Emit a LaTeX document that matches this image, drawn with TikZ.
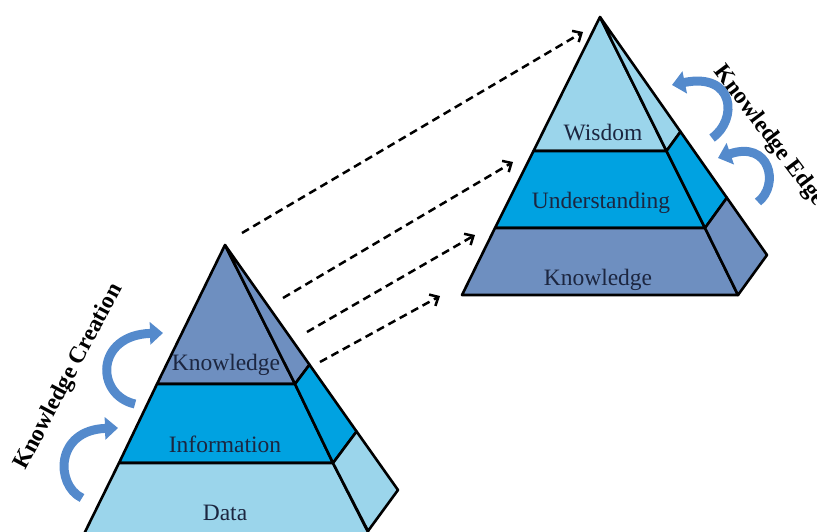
\documentclass[tikz,border=0pt]{standalone}
\usepackage{fontspec}
\setmainfont{Liberation Serif}
\usepackage{tikz}
\usetikzlibrary{arrows.meta,positioning}
\definecolor{slate}{RGB}{110,143,192}
\definecolor{brightb}{RGB}{0,162,225}
\definecolor{lightb}{RGB}{155,213,235}
\definecolor{labelc}{RGB}{28,38,64}
\definecolor{curvec}{RGB}{84,138,204}
\tikzstyle{layer}=[draw=black,line width=2.6pt,line join=round]
\tikzstyle{lbl}=[inner sep=0pt,anchor=base,text=labelc,font=\fontsize{23.5}{27}\selectfont]
\tikzstyle{sidetext}=[inner sep=0pt,font=\fontsize{23.5}{28}\selectfont\bfseries]
\tikzstyle{dashlink}=[line width=2.5pt,dash pattern=on 8pt off 5pt,-{Straight Barb[length=7pt,width=13pt]}]
\tikzstyle{bendarrow}=[line width=9pt,curvec,-{Triangle[length=13pt,width=22pt]}]
\begin{document}
\begin{tikzpicture}[x=1pt,y=-1pt]
\useasboundingbox (0,0) rectangle (817,531);
\clip (0,0) rectangle (817,531);
% lower pyramid
\filldraw[layer,fill=slate] (225,245) -- (295,384) -- (157,384) -- cycle;
\filldraw[layer,fill=brightb] (157,384) -- (295,384) -- (333,463) -- (119,463) -- cycle;
\filldraw[layer,fill=lightb] (119,463) -- (333,463) -- (369,534) -- (84,534) -- cycle;
\filldraw[layer,fill=slate] (225,245) -- (309.5,364.7) -- (295,384) -- cycle;
\filldraw[layer,fill=brightb] (295,384) -- (309.5,364.7) -- (356.6,431.5) -- (333,463) -- cycle;
\filldraw[layer,fill=lightb] (333,463) -- (356.6,431.5) -- (398,490) -- (368,531) -- cycle;
% upper pyramid
\filldraw[layer,fill=lightb] (600,17) -- (666.5,151) -- (533.5,151) -- cycle;
\filldraw[layer,fill=brightb] (533.5,151) -- (666.5,151) -- (705,228) -- (495,228) -- cycle;
\filldraw[layer,fill=slate] (495,228) -- (705,228) -- (738,295) -- (462,295) -- cycle;
\filldraw[layer,fill=lightb] (600,17) -- (680.5,131.7) -- (666.5,151) -- cycle;
\filldraw[layer,fill=brightb] (666.5,151) -- (680.5,131.7) -- (726.9,197.8) -- (705,228) -- cycle;
\filldraw[layer,fill=slate] (705,228) -- (726.9,197.8) -- (767,255) -- (738,295) -- cycle;
% layer labels
\node[lbl] (K1) at (226,370) {Knowledge};
\node[lbl] (I1) at (225,452) {Information};
\node[lbl] (D1) at (225,520) {Data};
\node[lbl] (W2) at (603,140) {Wisdom};
\node[lbl] (U2) at (601,208) {Understanding};
\node[lbl] (K2) at (598,285) {Knowledge};
% side texts
\node[sidetext,rotate=62] (KC) at (69,377) {Knowledge Creation};
\node[sidetext,rotate=-53] (KE) at (769,136) {Knowledge Edge};
% dashed links
\coordinate (a1) at (242,233); \coordinate (b1) at (583,32);
\coordinate (a2) at (283,298); \coordinate (b2) at (513,162);
\coordinate (a3) at (307,332); \coordinate (b3) at (475,235);
\coordinate (a4) at (320,362); \coordinate (b4) at (440,296);
\path[dashlink]
(a1) edge (b1)
(a2) edge (b2)
(a3) edge (b3)
(a4) edge (b4);
% curved arrows
\coordinate (t1) at (135,404); \coordinate (h1) at (163,333);
\coordinate (t2) at (82,498); \coordinate (h2) at (118,428);
\coordinate (t3) at (712,138); \coordinate (h3) at (672,85);
\coordinate (t4) at (758,202); \coordinate (h4) at (718,158);
\draw[bendarrow] (t1) .. controls (95,395) and (95,335) .. (h1);
\draw[bendarrow] (t2) .. controls (55,485) and (55,430) .. (h2);
\draw[bendarrow] (t3) .. controls (738,120) and (735,72) .. (h3);
\draw[bendarrow] (t4) .. controls (780,185) and (770,140) .. (h4);
\end{tikzpicture}
\end{document}
